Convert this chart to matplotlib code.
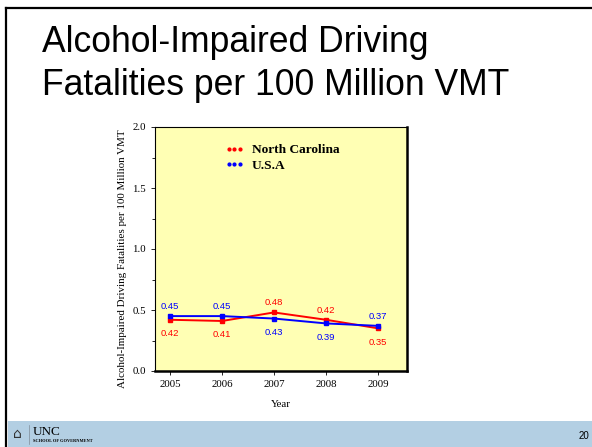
import matplotlib.pyplot as plt
from matplotlib.lines import Line2D
from matplotlib.patches import Rectangle
from matplotlib.ticker import MultipleLocator

years = [2005, 2006, 2007, 2008, 2009]
nc_rate = [0.42, 0.41, 0.48, 0.42, 0.35]
usa_rate = [0.45, 0.45, 0.43, 0.39, 0.37]
# label placement: 1 = above the point, -1 = below
nc_side = [-1, -1, 1, 1, -1]
usa_side = [1, 1, -1, -1, 1]

title_lines = ["Alcohol-Impaired Driving", "Fatalities per 100 Million VMT"]
ylab = "Alcohol-Impaired Driving Fatalities per 100 Million VMT"

fig = plt.figure(figsize=(5.92, 4.47), dpi=100)
fig.patch.set_facecolor('white')

# slide frame and footer
W, H = 592.0, 447.0
fig.add_artist(Line2D([6 / W, 1], [1 - 8 / H, 1 - 8 / H], color='black', lw=1.6))
fig.add_artist(Line2D([6 / W, 6 / W], [0, 1 - 8 / H], color='black', lw=1.6))
fig.add_artist(Rectangle((8 / W, 0), 1, 26 / H, color='#b3cfe3', lw=0))
fig.text(33 / W, 1 - 432 / H, "UNC", family='Liberation Serif', fontsize=9.5, va='center')
fig.text(33 / W, 1 - 441 / H, "SCHOOL OF GOVERNMENT", family='Liberation Serif', fontsize=3.2,
         va='center', weight='bold')
fig.add_artist(Line2D([29 / W, 29 / W], [1 - 444 / H, 1 - 425 / H], color='#7f8c99', lw=0.5))
fig.text(17 / W, 1 - 434 / H, u"\u2302", fontsize=10, ha='center', va='center', color='#333333')
fig.text(589 / W, 1 - 436 / H, "20", family='Liberation Sans', fontsize=7, ha='right', va='center')

for i, line in enumerate(title_lines):
    fig.text(42 / W, 1 - (52 + 43 * i) / H, line, family='Liberation Sans', fontsize=25.6,
             va='baseline')

ax = fig.add_axes([155 / W, 1 - 371 / H, 252 / W, 244 / H])
ax.set_facecolor('#ffffb4')

ax.plot(years, nc_rate, color='red', lw=1.4, marker='s', ms=2.5)
ax.plot(years, usa_rate, color='blue', lw=1.4, marker='s', ms=2.5)

for x, y, s in zip(years, nc_rate, nc_side):
    ax.annotate(f"{y:.2f}", (x, y), xytext=(0, 7 if s > 0 else -10), textcoords='offset points',
                ha='center', va='center', color='red', fontsize=6.8, family='Liberation Sans')
for x, y, s in zip(years, usa_rate, usa_side):
    ax.annotate(f"{y:.2f}", (x, y), xytext=(0, 7 if s > 0 else -10), textcoords='offset points',
                ha='center', va='center', color='blue', fontsize=6.8, family='Liberation Sans')

ax.set_xlim(2004.71, 2009.56)
ax.set_ylim(0, 2.0)
ax.set_xticks(years)
ax.yaxis.set_major_locator(MultipleLocator(0.5))
ax.yaxis.set_minor_locator(MultipleLocator(0.25))
ax.yaxis.set_major_formatter(plt.FormatStrFormatter('%.1f'))
ax.tick_params(direction='out', length=3, width=0.6, labelsize=7.8)
ax.tick_params(which='minor', direction='out', length=2, width=0.6)
for lab in ax.get_xticklabels() + ax.get_yticklabels():
    lab.set_family('Liberation Serif')

for side in ['top', 'left']:
    ax.spines[side].set_linewidth(0.8)
for side in ['right', 'bottom']:
    ax.spines[side].set_linewidth(1.8)

ax.set_xlabel("Year", family='Liberation Serif', fontsize=7.8, labelpad=8)
ax.set_ylabel(ylab, family='Liberation Serif', fontsize=7.9)
ax.yaxis.set_label_coords(-0.111, 0.459)

handles = [Line2D([], [], color='red', marker='.', ls='none', ms=4),
           Line2D([], [], color='blue', marker='.', ls='none', ms=4)]
ax.legend(handles, ["North Carolina", "U.S.A"], loc='upper left', bbox_to_anchor=(0.23, 0.98),
          frameon=False, numpoints=3, handlelength=1.4, handletextpad=0.6, labelspacing=0.25,
          prop={'family': 'Liberation Serif', 'weight': 'bold', 'size': 9.6})

fig.savefig("out.png", dpi=100)
